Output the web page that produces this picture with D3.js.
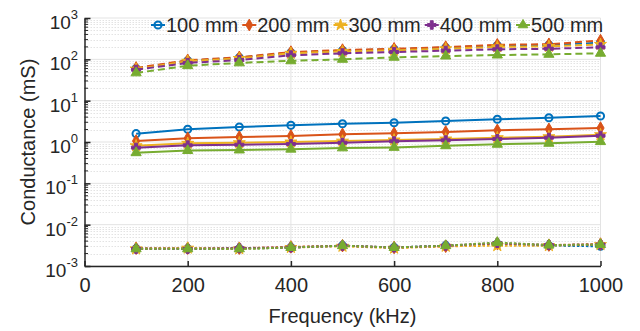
<!DOCTYPE html>
<meta charset="utf-8">
<style>
  body { margin: 0; background: #fff; }
  text { font-family: "Liberation Sans", Arial, sans-serif; fill: #262626; }
  .grid-major line { stroke: #e3e3e3; stroke-width: 1; }
  .grid-minor line { stroke: #e3e3e3; stroke-width: 1; stroke-dasharray: 1.5,1.5; }
  .axis path, .axis line { stroke: #262626; }
</style>
<svg id="chart" width="640" height="331"></svg>
<script src="https://d3js.org/d3.v7.min.js"></script>
<script>
// frequencies in kHz
var freqs = [100, 200, 300, 400, 500, 600, 700, 800, 900, 1000];
var seriesNames = ["100 mm", "200 mm", "300 mm", "400 mm", "500 mm"];

// upper (dashed) group, mS
var dash100 = [60, 92, 110, 145, 163, 175, 192, 215, 222, 252];
var dash200 = [62, 95, 112, 150, 168, 180, 198, 225, 232, 285];
var dash300 = [58, 90, 105, 140, 155, 165, 180, 200, 205, 230];
var dash400 = [56, 82, 96, 125, 140, 150, 162, 175, 180, 195];
var dash500 = [47, 70, 82, 92, 100, 112, 120, 127, 132, 140];

// middle (solid) group, mS
var solid100 = [1.59, 2.03, 2.31, 2.53, 2.77, 2.93, 3.22, 3.55, 3.87, 4.26];
var solid200 = [1.06, 1.23, 1.32, 1.40, 1.53, 1.62, 1.75, 1.92, 2.03, 2.18];
var solid300 = [0.81, 0.93, 0.96, 1.00, 1.05, 1.12, 1.18, 1.27, 1.34, 1.50];
var solid400 = [0.73, 0.83, 0.86, 0.89, 0.96, 1.04, 1.10, 1.18, 1.27, 1.42];
var solid500 = [0.55, 0.62, 0.64, 0.67, 0.72, 0.74, 0.81, 0.88, 0.93, 1.02];

// lower (dotted) group, mS
var dot100 = [0.0026, 0.0026, 0.0026, 0.0028, 0.0031, 0.0028, 0.0031, 0.0034, 0.0031, 0.0030];
var dot200 = [0.0027, 0.0027, 0.0027, 0.0029, 0.0031, 0.0028, 0.0030, 0.0035, 0.0032, 0.0034];
var dot300 = [0.0026, 0.0027, 0.0026, 0.0028, 0.0030, 0.0027, 0.0030, 0.0031, 0.0031, 0.0033];
var dot400 = [0.0026, 0.0026, 0.0027, 0.0028, 0.0031, 0.0028, 0.0031, 0.0036, 0.0032, 0.0033];
var dot500 = [0.0026, 0.0026, 0.0026, 0.0028, 0.0031, 0.0028, 0.0031, 0.0037, 0.0032, 0.0033];

var xTicks = [0, 200, 400, 600, 800, 1000];
var yExps = [-3, -2, -1, 0, 1, 2, 3];

var colors = ["#0072BD", "#D95319", "#EDB120", "#7E2F8E", "#77AC30"];
var symbols = [d3.symbolCircle, d3.symbolDiamond, d3.symbolStar, d3.symbolCross, d3.symbolTriangle];

var groups = [
  { values: [dash100, dash200, dash300, dash400, dash500], dash: "7,4" },
  { values: [solid100, solid200, solid300, solid400, solid500], dash: null },
  { values: [dot100, dot200, dot300, dot400, dot500], dash: "2.5,2" }
];

var svg = d3.select("#chart");
var plotL = 84.5, plotR = 600.5, plotT = 18, plotB = 266;

var x = d3.scaleLinear().domain([0, 1000]).range([plotL, plotR]);
var y = d3.scaleLog().domain([1e-3, 1e3]).range([plotB, plotT]);

// minor values 2..9 per decade
var minorVals = [];
yExps.slice(0, -1).forEach(function(e) {
  for (var k = 2; k <= 9; k++) minorVals.push(k * Math.pow(10, e));
});
var majorVals = yExps.map(e => Math.pow(10, e));

// grid
svg.append("g").attr("class", "grid-minor")
  .selectAll("line").data(minorVals).enter().append("line")
  .attr("x1", plotL).attr("x2", plotR)
  .attr("y1", d => Math.round(y(d)) + 0.5).attr("y2", d => Math.round(y(d)) + 0.5);

svg.append("g").attr("class", "grid-major")
  .selectAll("line").data(majorVals).enter().append("line")
  .attr("x1", plotL).attr("x2", plotR)
  .attr("y1", d => y(d)).attr("y2", d => y(d));

svg.append("g").attr("class", "grid-major")
  .selectAll("line").data(xTicks.slice(1)).enter().append("line")
  .attr("x1", d => x(d)).attr("x2", d => x(d))
  .attr("y1", plotT).attr("y2", plotB);

// series
var line = d3.line().x((d, i) => x(freqs[i])).y(d => y(d));

groups.forEach(function(g) {
  g.values.forEach(function(vals, s) {
    svg.append("path")
      .datum(vals)
      .attr("d", line)
      .attr("fill", "none")
      .attr("stroke", colors[s])
      .attr("stroke-width", 2)
      .attr("stroke-dasharray", g.dash);

    svg.append("g").selectAll("path")
      .data(vals).enter().append("path")
      .attr("transform", (d, i) => "translate(" + x(freqs[i]) + "," + y(d) + ")")
      .attr("d", d3.symbol().type(symbols[s]).size(s == 0 ? 40 : 45))
      .attr("fill", s == 0 ? "none" : colors[s])
      .attr("stroke", colors[s])
      .attr("stroke-width", s == 0 ? 2 : 1);
  });
});

// axes
var xAxis = svg.append("g").attr("class", "axis")
  .attr("transform", "translate(0," + plotB + ")")
  .call(d3.axisBottom(x).tickValues(xTicks).tickFormat(d3.format("d"))
    .tickSizeInner(-5).tickSizeOuter(0).tickPadding(12));
xAxis.select(".domain").attr("stroke-width", 1.5);
xAxis.selectAll("line").attr("stroke-width", 1.5);
xAxis.selectAll("text").style("font-size", "20px").attr("fill", "#262626");

var yAxis = svg.append("g").attr("class", "axis")
  .attr("transform", "translate(" + plotL + ",0)")
  .call(d3.axisLeft(y).tickValues(majorVals).tickSizeInner(-6).tickSizeOuter(0).tickFormat(""));
yAxis.select(".domain").attr("stroke-width", 1.5);
yAxis.selectAll("line").attr("stroke-width", 1.5);

svg.append("g").attr("class", "axis")
  .selectAll("line").data(minorVals).enter().append("line")
  .attr("x1", plotL).attr("x2", plotL + 3.5)
  .attr("y1", d => y(d)).attr("y2", d => y(d));

// y tick labels 10^n
var yLab = svg.append("g").selectAll("text").data(yExps).enter().append("text")
  .attr("x", 78)
  .attr("y", d => y(Math.pow(10, d)) + 11)
  .attr("text-anchor", "end")
  .style("font-size", "19px");
yLab.append("tspan").text("10");
yLab.append("tspan").attr("dy", -10).style("font-size", "13px").text(d => d);

// axis titles
svg.append("text")
  .attr("x", (plotL + plotR) / 2).attr("y", 323)
  .attr("text-anchor", "middle").style("font-size", "20px")
  .text("Frequency (kHz)");

svg.append("text")
  .attr("transform", "translate(35," + ((plotT + plotB) / 2) + ") rotate(-90)")
  .attr("text-anchor", "middle").style("font-size", "20px")
  .text("Conductance (mS)");

// legend
var lg = svg.append("g").attr("transform", "translate(151,25)");
var lx = 0;
seriesNames.forEach(function(name, s) {
  var item = lg.append("g").attr("transform", "translate(" + lx + ",0)");
  item.append("line").attr("x1", 0).attr("x2", 14).attr("y1", 0).attr("y2", 0)
    .attr("stroke", colors[s]).attr("stroke-width", 2);
  item.append("path").attr("transform", "translate(7,0)")
    .attr("d", d3.symbol().type(symbols[s]).size(40))
    .attr("fill", s == 0 ? "none" : colors[s]).attr("stroke", colors[s])
    .attr("stroke-width", s == 0 ? 2 : 1);
  var t = item.append("text").attr("x", 15).attr("y", 7).style("font-size", "20px").text(name);
  lx += 15 + t.node().getComputedTextLength() + 4;
});
</script>
